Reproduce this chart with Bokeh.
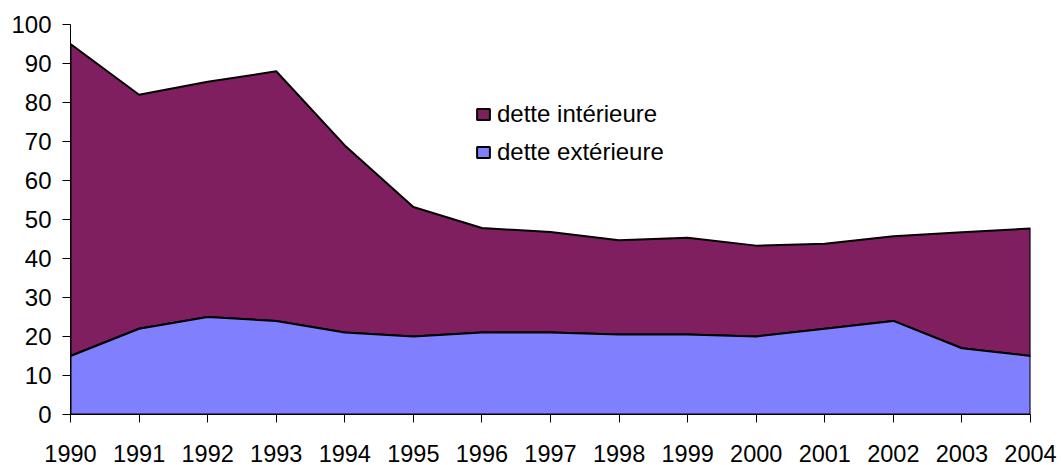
from bokeh.plotting import figure
from bokeh.models import Range1d, FixedTicker, Legend, LegendItem
from bokeh.embed import file_html
from bokeh.resources import INLINE

years = [1990, 1991, 1992, 1993, 1994, 1995, 1996, 1997, 1998, 1999, 2000, 2001, 2002, 2003, 2004]
dette_exterieure = [15, 22, 25, 24, 21, 20, 21, 21, 20.5, 20.5, 20, 22, 24, 17, 15]
dette_interieure = [80, 60, 60.3, 64, 48, 33.2, 26.8, 25.8, 24.2, 24.8, 23.3, 21.8, 21.7, 29.7, 32.7]
y_ticks = [0, 10, 20, 30, 40, 50, 60, 70, 80, 90, 100]
series_names = ["dette intérieure", "dette extérieure"]
colors = ["#7F1F5F", "#8080FF"]

FONT = "Liberation Sans"

p = figure(frame_width=960, frame_height=390, width=1062, height=465,
           min_border_left=70, min_border_right=32, min_border_top=24, min_border_bottom=51,
           x_range=Range1d(years[0], years[-1]), y_range=Range1d(0, 100),
           output_backend="svg", toolbar_location=None)

total = [e + i for e, i in zip(dette_exterieure, dette_interieure)]
n = len(years)
xs = years + years[::-1]
ext_y = dette_exterieure + [0] * n
int_y = total + dette_exterieure[::-1]

r_int = p.patch(xs, int_y, fill_color=colors[0], line_color="black", line_width=2)
r_ext = p.patch(xs, ext_y, fill_color=colors[1], line_color="black", line_width=2)

legend = Legend(items=[LegendItem(label=series_names[0], renderers=[r_int]),
                       LegendItem(label=series_names[1], renderers=[r_ext])],
                location=(405, 248), padding=0, margin=0, spacing=10,
                glyph_width=16, glyph_height=14, label_standoff=6,
                label_text_font=FONT, label_text_font_size="24px",
                label_text_color="black",
                background_fill_alpha=0, border_line_color=None)
p.add_layout(legend)

p.grid.visible = False
p.outline_line_color = None
p.background_fill_color = "white"

for ax in (p.xaxis[0], p.yaxis[0]):
    ax.axis_line_color = "black"
    ax.axis_line_width = 1
    ax.major_tick_line_color = "black"
    ax.major_tick_in = 0
    ax.major_tick_out = 8
    ax.minor_tick_line_color = None
    ax.major_label_text_font = FONT
    ax.major_label_text_color = "black"

p.xaxis.ticker = FixedTicker(ticks=years)
p.xaxis.major_label_text_font_size = "23.5px"
p.xaxis.major_label_standoff = 22
p.yaxis.ticker = FixedTicker(ticks=y_ticks)
p.yaxis.major_label_text_font_size = "24px"
p.yaxis.major_label_standoff = 11

open("out.html", "w").write(file_html(p, INLINE))
